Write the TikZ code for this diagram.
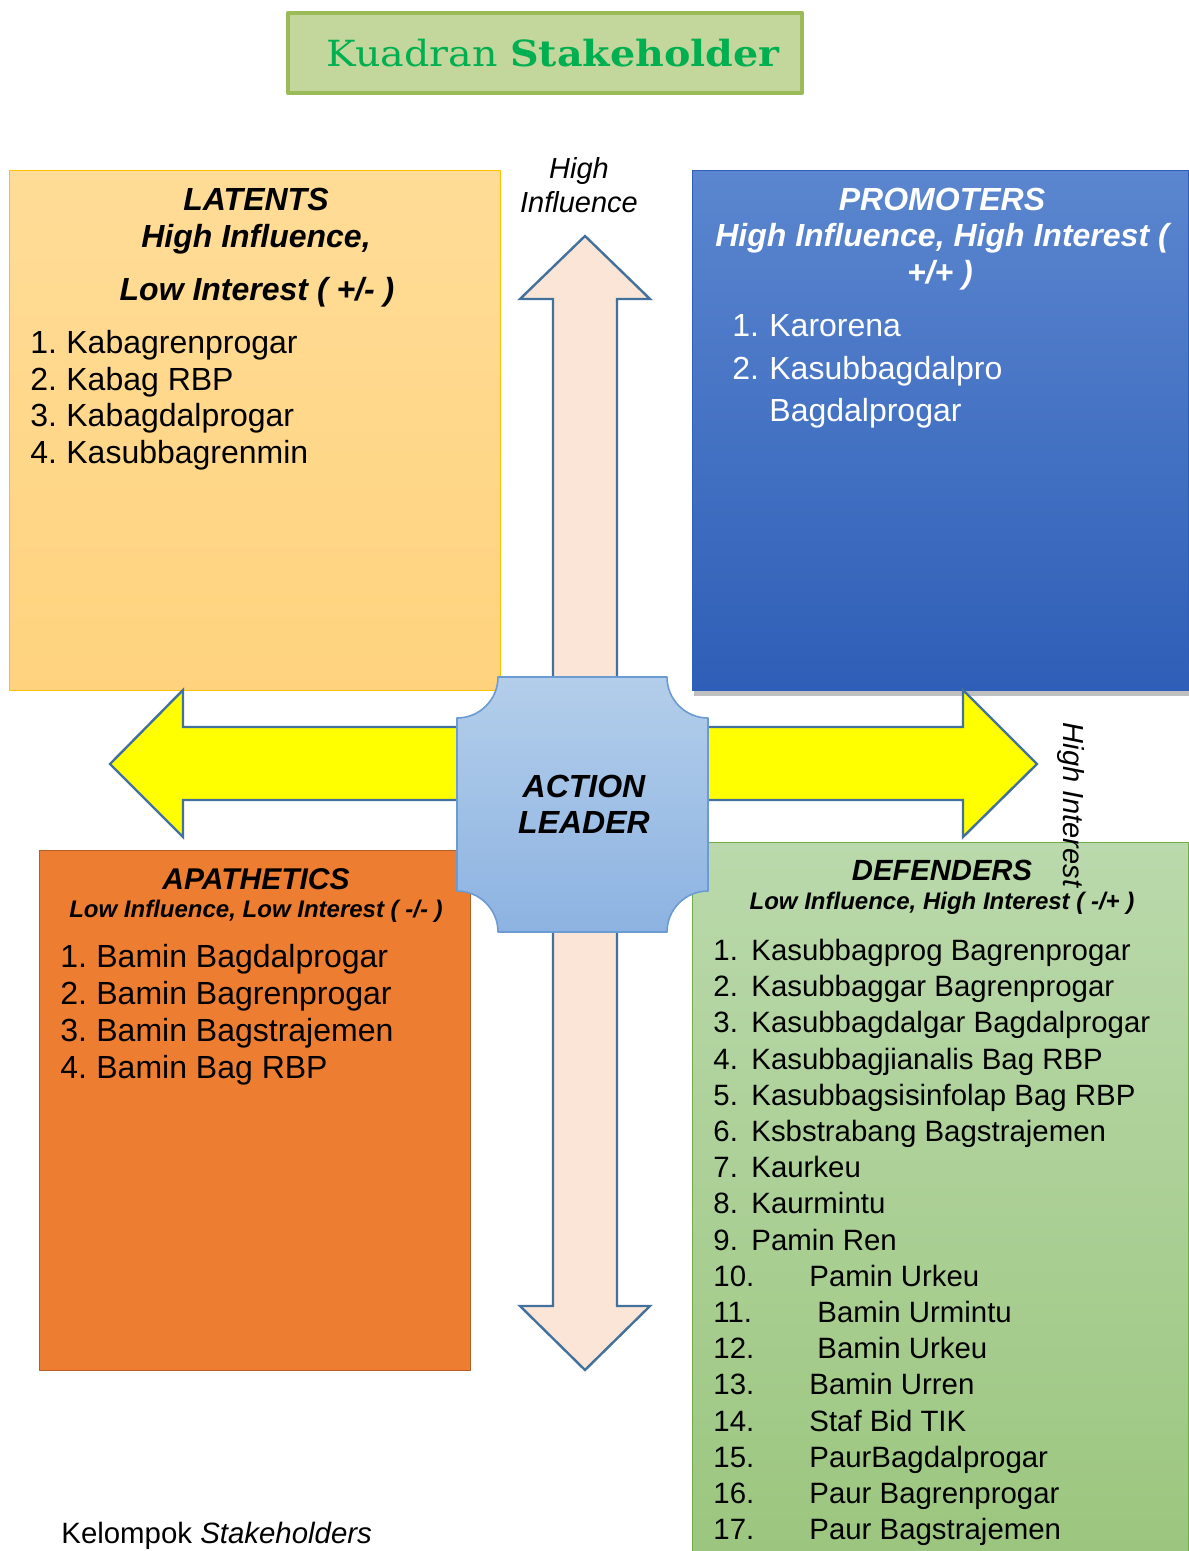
\documentclass[tikz,border=0pt]{standalone}
\usepackage{fontspec}
\setmainfont{Liberation Sans}
\newfontfamily\titlefont{DejaVu Serif}
\usetikzlibrary{shadows}
\newcommand{\numlbl}[2][18pt]{\makebox[#1][l]{#2}}
\definecolor{titlefill}{HTML}{C3D69B}
\definecolor{titleline}{HTML}{9BBB59}
\definecolor{titleink}{HTML}{00B050}
\definecolor{latop}{HTML}{FFDC97}
\definecolor{labot}{HTML}{FFD37E}
\definecolor{laline}{HTML}{FFC000}
\definecolor{prtop}{HTML}{5B86CF}
\definecolor{prbot}{HTML}{2E5EB7}
\definecolor{aporange}{HTML}{ED7D31}
\definecolor{apline}{HTML}{B45F26}
\definecolor{detop}{HTML}{BAD9AC}
\definecolor{debot}{HTML}{9CC67F}
\definecolor{deline}{HTML}{70AD47}
\definecolor{peach}{HTML}{FBE5D6}
\definecolor{arrowline}{HTML}{41719C}
\definecolor{altop}{HTML}{B3CEEA}
\definecolor{albot}{HTML}{8DB3E2}
\definecolor{alline}{HTML}{6A9BD2}
\definecolor{brightyellow}{HTML}{FFFF00}

\begin{document}
\begin{tikzpicture}[x=0.5pt, y=-0.5pt, line join=round,
    quad/.style={draw, line width=0.6pt, inner sep=0pt, anchor=north west},
    hd/.style={anchor=base, inner sep=0pt, font=\fontsize{16}{19}\selectfont\bfseries\itshape},
    sub/.style={anchor=base, inner sep=0pt, font=\fontsize{12}{14}\selectfont\bfseries\itshape},
    lst/.style={anchor=base west, inner sep=0pt, font=\fontsize{16}{19}\selectfont},
    axis/.style={anchor=base, inner sep=0pt, font=\fontsize{14.5}{17}\selectfont\itshape},
    bigarr/.style={draw=arrowline, line width=1.2pt, line join=miter}]
  \useasboundingbox (0,0) rectangle (1188,1551);
  % title
  \node[draw=titleline, fill=titlefill, line width=2pt, minimum width=257pt, minimum height=40pt,
        inner sep=0pt, font=\titlefont\fontsize{18}{20}\selectfont, text=titleink] (title) at (545,53)
        {\hspace*{8pt}\scalebox{1.1}[1]{Kuadran \textbf{Stakeholder}}};
  % the four quadrants
  \node[quad, draw=laline, top color=latop, bottom color=labot,
        minimum width=245.5pt, minimum height=260pt] (latbox) at (9,170) {};
  \node[quad, draw=prbot, top color=prtop, bottom color=prbot, minimum width=248pt, minimum height=260pt,
        drop shadow={shadow xshift=0.8pt, shadow yshift=-2.5pt, opacity=0.5}] (probox) at (692,170) {};
  \node[quad, draw=apline, fill=aporange, minimum width=215.5pt, minimum height=260pt] (apbox) at (39,850) {};
  \node[quad, draw=deline, top color=detop, bottom color=debot,
        minimum width=248pt, minimum height=354.5pt] (debox) at (692,842) {};
  % axes
  \draw[bigarr, fill=peach] (585,236) -- (650,299) -- (617,299) -- (617,1306) -- (650,1306) -- (585,1370)
    -- (520,1306) -- (553,1306) -- (553,299) -- (520,299) -- cycle;
  \draw[bigarr, fill=brightyellow] (110,764) -- (183,690) -- (183,727) -- (963,727) -- (963,690) -- (1037,764)
    -- (963,837) -- (963,800) -- (183,800) -- (183,837) -- cycle;
  \draw[alline, line width=0.8pt, top color=altop, bottom color=albot]
    (498,677) -- (667,677) .. controls (667,699.6) and (685.4,718) .. (708,718)
    -- (708,891) .. controls (685.4,891) and (667,909.4) .. (667,932)
    -- (498,932) .. controls (498,909.4) and (479.6,891) .. (457,891)
    -- (457,718) .. controls (479.6,718) and (498,699.6) .. (498,677) -- cycle;
  \node[hd] (act) at (584,797.5) {ACTION};
  \node[hd] (ldr) at (584,833.5) {LEADER};
  \node[axis] (hinf1) at (579,178.4) {High};
  \node[axis] (hinf2) at (579,212.4) {Influence};
  \node[axis, rotate=-90] (hint) at (1063,805) {High Interest};
  % latents
  \node[hd] (lath) at (256,210.5) {LATENTS};
  \node[hd] (lat1) at (256,247.5) {High Influence,};
  \node[hd] (lat2) at (257,300.5) {Low Interest ( +/- )};
  \node[lst] (la1) at (30,353.5) {\numlbl{1.}Kabagrenprogar};
  \node[lst] (la2) at (30,390.2) {\numlbl{2.}Kabag RBP};
  \node[lst] (la3) at (30,426.9) {\numlbl{3.}Kabagdalprogar};
  \node[lst] (la4) at (30,463.6) {\numlbl{4.}Kasubbagrenmin};
  % promoters
  \node[hd, text=white] (proh) at (942,210.5) {PROMOTERS};
  \node[hd, text=white] (pro1) at (942,246.5) {High Influence, High Interest (};
  \node[hd, text=white] (pro2) at (940,283.5) {+/+ )};
  \node[lst, text=white] (pr1) at (732,336.5) {\numlbl[18.5pt]{1.}Karorena};
  \node[lst, text=white] (pr2) at (732,379.5) {\numlbl[18.5pt]{2.}Kasubbagdalpro};
  \node[lst, text=white] (pr3) at (769,421.5) {Bagdalprogar};
  % apathetics
  \node[hd, font=\fontsize{15}{18}\selectfont\bfseries\itshape] (aph) at (256,889.5) {APATHETICS};
  \node[sub] (ap0) at (256,917.6) {Low Influence, Low Interest ( -/- )};
  \node[lst] (ap1) at (60,967.7) {\numlbl{1.}Bamin Bagdalprogar};
  \node[lst] (ap2) at (60,1004.7) {\numlbl{2.}Bamin Bagrenprogar};
  \node[lst] (ap3) at (60,1041.7) {\numlbl{3.}Bamin Bagstrajemen};
  \node[lst] (ap4) at (60,1078.7) {\numlbl{4.}Bamin Bag RBP};
  % defenders
  \tikzset{dl/.style={lst, font=\fontsize{14.7}{17}\selectfont}}
  \node[hd, font=\fontsize{14.6}{17}\selectfont\bfseries\itshape] (deh) at (942,880.5) {DEFENDERS};
  \node[sub] (de0) at (942,909.6) {Low Influence, High Interest ( -/+ )};
  \node[dl] (de1) at (713,960.4) {\numlbl[19pt]{1.}Kasubbagprog Bagrenprogar};
  \node[dl] (de2) at (713,996.6) {\numlbl[19pt]{2.}Kasubbaggar Bagrenprogar};
  \node[dl] (de3) at (713,1032.8) {\numlbl[19pt]{3.}Kasubbagdalgar Bagdalprogar};
  \node[dl] (de4) at (713,1069.0) {\numlbl[19pt]{4.}Kasubbagjianalis Bag RBP};
  \node[dl] (de5) at (713,1105.2) {\numlbl[19pt]{5.}Kasubbagsisinfolap Bag RBP};
  \node[dl] (de6) at (713,1141.4) {\numlbl[19pt]{6.}Ksbstrabang Bagstrajemen};
  \node[dl] (de7) at (713,1177.6) {\numlbl[19pt]{7.}Kaurkeu};
  \node[dl] (de8) at (713,1213.8) {\numlbl[19pt]{8.}Kaurmintu};
  \node[dl] (de9) at (713,1250.0) {\numlbl[19pt]{9.}Pamin Ren};
  \node[dl] (de10) at (713,1286.2) {\numlbl[48pt]{10.}Pamin Urkeu};
  \node[dl] (de11) at (713,1322.4) {\numlbl[52pt]{11.}Bamin Urmintu};
  \node[dl] (de12) at (713,1358.6) {\numlbl[52pt]{12.}Bamin Urkeu};
  \node[dl] (de13) at (713,1394.8) {\numlbl[48pt]{13.}Bamin Urren};
  \node[dl] (de14) at (713,1431.0) {\numlbl[48pt]{14.}Staf Bid TIK};
  \node[dl] (de15) at (713,1467.2) {\numlbl[48pt]{15.}PaurBagdalprogar};
  \node[dl] (de16) at (713,1503.4) {\numlbl[48pt]{16.}Paur Bagrenprogar};
  \node[dl] (de17) at (713,1539.6) {\numlbl[48pt]{17.}Paur Bagstrajemen};
  % caption
  \node[lst, font=\fontsize{14.7}{17}\selectfont] (cap) at (61,1543.5) {Kelompok \textit{Stakeholders}};
\end{tikzpicture}
\end{document}
